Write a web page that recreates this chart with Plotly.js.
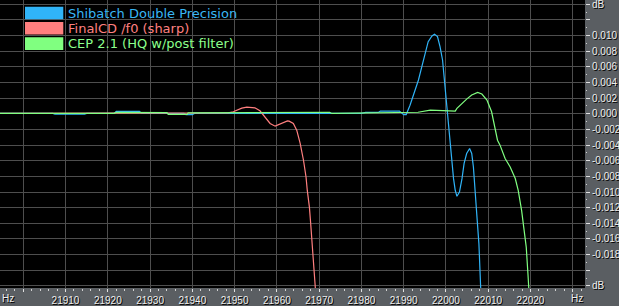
<!DOCTYPE html>
<html>
<head>
<meta charset="utf-8">
<script src="https://cdn.plot.ly/plotly-3.0.1.min.js"></script>
<style>
  html, body { margin: 0; padding: 0; background: #5a5e62; }
  #chart { width: 619px; height: 306px; }
</style>
</head>
<body>
<div id="chart"></div>
<script>
// Series names
const seriesNames = ["Shibatch Double Precision", "FinalCD /f0 (sharp)", "CEP 2.1 (HQ w/post filter)"];

// Shibatch Double Precision (Hz, dB)
const shibatchHz = [21890, 21907, 21907.5, 21914.5, 21915, 21921.5, 21922, 21927.5, 21928, 21938, 21938.5, 21940, 21940.5, 21980, 21981, 21984, 21984.5, 21989, 21990, 21990.6,
  21991.5, 21991.9, 21992.3, 21992.7, 21993.5, 21994.3, 21995.1, 21995.8, 21996.7, 21997.3, 21998.0, 21998.6, 21999.2, 21999.6, 22000.0, 22000.3, 22000.6,
  22001.0, 22001.4, 22001.8, 22002.2, 22002.6, 22003.2, 22003.8, 22004.3, 22004.9, 22005.6, 22006.1, 22006.5, 22007.1, 22007.4, 22007.8, 22007.9, 22008.2, 22008.5];
const shibatchDb = [0.00005, 0.00005, -0.00005, -0.00005, 0.00005, 0.00005, 0.0003, 0.0003, 0.00005, 0.00005, -0.0001, -0.0001, 0.00005, 0.00005, 0.00018, 0.00018, 0.00035, 0.00035, -0.0001, -0.0001,
  0.0011, 0.00176, 0.0024, 0.00304, 0.00432, 0.00603, 0.00774, 0.00923, 0.00996, 0.01018, 0.00987, 0.00859, 0.00688, 0.00453, 0.00217, 0.00005, -0.00187,
  -0.00336, -0.00594, -0.00829, -0.00978, -0.01055, -0.01000, -0.00829, -0.00635, -0.00508, -0.00444, -0.00508, -0.00680, -0.01064, -0.01363, -0.01662, -0.01875, -0.02235, -0.026];

// FinalCD /f0 (sharp)
const finalcdHz = [21890, 21921.5, 21922, 21948.5, 21949.7, 21950.5, 21951.7, 21952.9, 21954.8, 21956.0, 21956.8, 21957.6, 21958.4, 21959.6, 21961.2, 21962.5, 21962.9,
  21963.9, 21964.7, 21965.5, 21966.3, 21966.9, 21967.2, 21967.7, 21968.0, 21968.4, 21968.8, 21969.2, 21969.6];
const finalcdDb = [0.00005, 0.00005, 0.00012, 0.00012, 0.00026, 0.00047, 0.00073, 0.00086, 0.00077, 0.00038, -0.00017, -0.00081, -0.00123, -0.00158, -0.00123, -0.0009, -0.00094,
  -0.00123, -0.00209, -0.00376, -0.00594, -0.00808, -0.0098, -0.01194, -0.01403, -0.01659, -0.01915, -0.02235, -0.026];

// CEP 2.1 (HQ w/post filter)
const cepHz = [21890, 21907, 21907.5, 21909, 21909.5, 21921.5, 21922, 21930, 21934, 21934.3, 21938.8, 21939, 21945.5, 21946, 21972.5, 21973, 21989.2, 21993.4, 21996.3, 22000.3, 22002.2,
  22002.6, 22003.8, 22004.9, 22006.1, 22007.5, 22008.5, 22009.7, 22010.8, 22011.6, 22012.2, 22012.8, 22014.0, 22015.2, 22016.4, 22017.1, 22017.5, 22017.9, 22018.5, 22019.0, 22019.4, 22019.7, 22020.0];
const cepDb = [0.00005, 0.00005, -0.00003, -0.00003, 0.00005, 0.00005, 0.00018, 0.00015, 0.00015, -0.00008, -0.00008, 0.00013, 0.00013, 0.0002, 0.0002, 0.00005, 0.00013, 0.0002, 0.00047, 0.00035, 0.00035,
  0.0007, 0.00133, 0.00188, 0.0024, 0.00274, 0.00253, 0.00176, 0.00026, -0.00167, -0.00338, -0.00401, -0.00572, -0.0068, -0.00828, -0.00978, -0.01106, -0.01235, -0.0149, -0.01705, -0.02046, -0.02235, -0.026];

// Axis ticks
const xTickVals = [21900, 21910, 21920, 21930, 21940, 21950, 21960, 21970, 21980, 21990, 22000, 22010, 22020, 22030];
const xTickText = ["", "21910", "21920", "21930", "21940", "21950", "21960", "21970", "21980", "21990", "22000", "22010", "22020", ""];
const yTickVals = [0.014, 0.012, 0.010, 0.008, 0.006, 0.004, 0.002, 0.000, -0.002, -0.004, -0.006, -0.008, -0.010, -0.012, -0.014, -0.016, -0.018, -0.020, -0.022];
const yTickText = ["dB", "", "0.010", "0.008", "0.006", "0.004", "0.002", "0.000", "-0.002", "-0.004", "-0.006", "-0.008", "-0.010", "-0.012", "-0.014", "-0.016", "-0.018", "", "dB"];

const colors = ["#30b4f8", "#ff7f7f", "#80ff80"];
const textColors = ["#38b6f5", "#ff8080", "#8cff8c"];

const data = [
  {x: shibatchHz, y: shibatchDb, name: seriesNames[0], type: "scatter", mode: "lines", line: {color: colors[0], width: 1.2}, showlegend: false, hoverinfo: "skip"},
  {x: finalcdHz, y: finalcdDb, name: seriesNames[1], type: "scatter", mode: "lines", line: {color: colors[1], width: 1.2}, showlegend: false, hoverinfo: "skip"},
  {x: cepHz, y: cepDb, name: seriesNames[2], type: "scatter", mode: "lines", line: {color: colors[2], width: 1.2}, showlegend: false, hoverinfo: "skip"}
];

const plotW = 585, plotH = 288;
const shapes = [];
const annotations = [];
const swatchTops = [6.7, 22, 37.3];
for (let i = 0; i < 3; i++) {
  shapes.push({type: "rect", xref: "paper", yref: "paper", x0: 25 / plotW, x1: 63.3 / plotW,
    y0: 1 - (swatchTops[i] + 12.6) / plotH, y1: 1 - swatchTops[i] / plotH, fillcolor: colors[i], line: {width: 0}, layer: "above"});
  annotations.push({xref: "paper", yref: "paper", x: 67 / plotW, y: 1 - (swatchTops[i] + 6.6) / plotH,
    xanchor: "left", yanchor: "middle", showarrow: false, text: seriesNames[i], borderpad: 0,
    font: {family: "DejaVu Sans, sans-serif", size: 13, color: textColors[i]}});
}
const tickFont = {family: "Liberation Sans, Arial, sans-serif", size: 10, color: "#eeeeee", shadow: "1px 1px 0px #000"};
annotations.push({xref: "paper", yref: "paper", x: 8 / plotW, y: -10 / plotH, xanchor: "center", yanchor: "middle", showarrow: false, text: "Hz", font: tickFont});
annotations.push({xref: "paper", yref: "paper", x: 576.7 / plotW, y: -10 / plotH, xanchor: "center", yanchor: "middle", showarrow: false, text: "Hz", font: tickFont});

const layout = {
  width: 619, height: 306,
  margin: {l: 0, r: 34, t: 0, b: 18, pad: 0},
  paper_bgcolor: "#5a5e62",
  plot_bgcolor: "#000000",
  showlegend: false,
  xaxis: {
    range: [21894.5, 22032.9], tickmode: "array", tickvals: xTickVals, ticktext: xTickText,
    showgrid: true, gridcolor: "#4e4e4e", gridwidth: 1, zeroline: false, showline: false,
    ticks: "outside", ticklen: 3, tickcolor: "#e0e0e0", tickwidth: 1,
    minor: {tickmode: "linear", tick0: 21900, dtick: 2, ticks: "outside", ticklen: 2, tickcolor: "#d0d0d0", showgrid: false},
    tickfont: tickFont, fixedrange: true, ticklabeloverflow: "allow"
  },
  yaxis: {
    side: "right", range: [-0.022276, 0.014553], tickmode: "array", tickvals: yTickVals, ticktext: yTickText,
    showgrid: true, gridcolor: "#4e4e4e", gridwidth: 1, zeroline: false, showline: false,
    ticks: "outside", ticklen: 4, tickcolor: "#e0e0e0", tickwidth: 1,
    minor: {tickmode: "linear", tick0: 0.001, dtick: 0.002, ticks: "outside", ticklen: 1, tickcolor: "#d0d0d0", showgrid: false},
    tickfont: tickFont, fixedrange: true, ticklabeloverflow: "allow"
  },
  shapes: shapes,
  annotations: annotations
};

Plotly.newPlot("chart", data, layout, {displayModeBar: false, staticPlot: true});
</script>
</body>
</html>
